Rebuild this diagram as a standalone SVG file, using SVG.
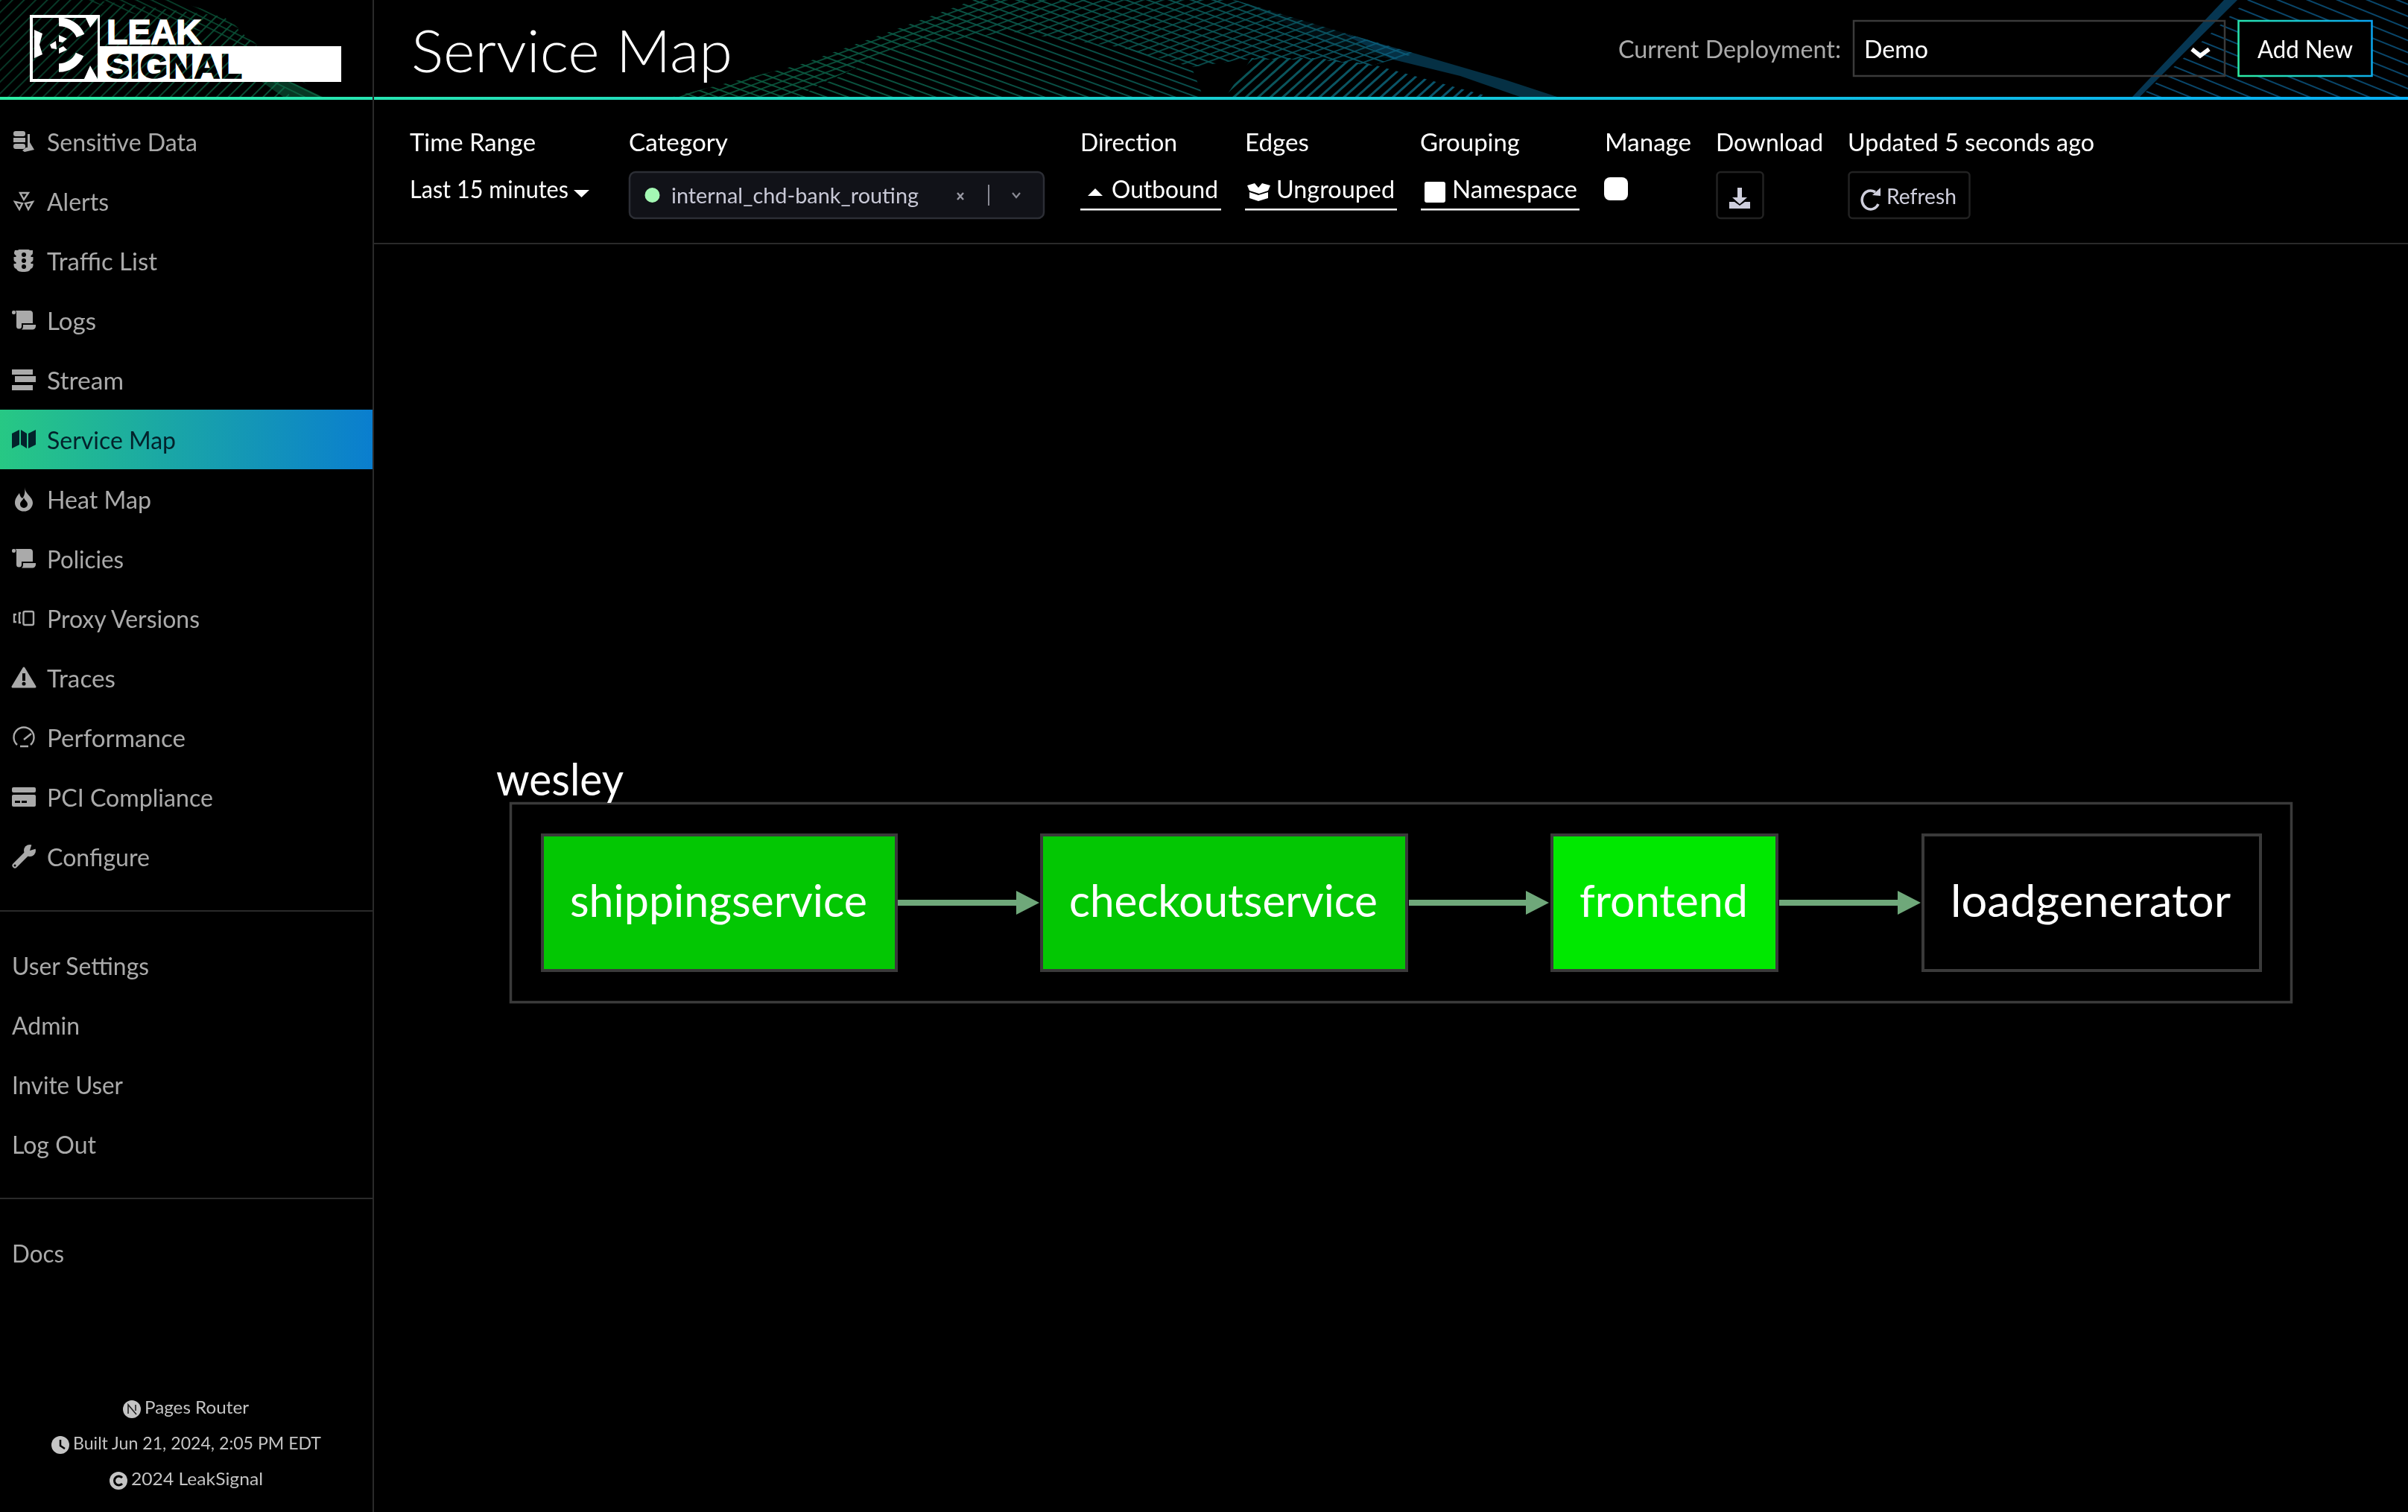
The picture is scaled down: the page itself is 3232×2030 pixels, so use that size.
<svg xmlns="http://www.w3.org/2000/svg" width="3232" height="2030" viewBox="0 0 3232 2030">
<style>
text{font-family:"Lato","Open Sans","Liberation Sans",sans-serif}
.nav{font-size:33px;fill:#aaa}
.ico{fill:#aaa}
.icl{fill:none;stroke:#aaa;stroke-width:2.4}
.hole{fill:#000}
.lab{font-size:33px;fill:#fff}
.foot{font-size:24px;fill:#c4c4c4}
.fi{fill:#c4c4c4}
.sep{fill:#2a2a2a}
.wt{fill:#fff}
.ul{fill:#fff}
.btn{fill:#000;stroke:#222;stroke-width:2.5}
.soft{fill:#cfcfdd}
.node{stroke:#3a3a3a;stroke-width:4}
.ntx{font-size:60px;fill:#fff}
.edge{stroke:#6fa87a;stroke-width:8;fill:none;marker-end:url(#arr)}
.lg{font-family:"Liberation Sans",Arial,sans-serif;font-size:47px;font-weight:700}
</style>
<defs>
<linearGradient id="topline" x1="0" x2="1" y1="0" y2="0"><stop offset="0" stop-color="#2deea4"/><stop offset="0.5" stop-color="#18cdd0"/><stop offset="1" stop-color="#08aef2"/></linearGradient>
<linearGradient id="active" x1="0" x2="1" y1="0" y2="0"><stop offset="0" stop-color="#27c884"/><stop offset="1" stop-color="#0a7ecf"/></linearGradient>
<linearGradient id="addnew" gradientUnits="userSpaceOnUse" x1="3004" y1="102" x2="3184" y2="27"><stop offset="0" stop-color="#2deea4"/><stop offset="1" stop-color="#08a4f5"/></linearGradient>
<linearGradient id="waveC" gradientUnits="userSpaceOnUse" x1="900" y1="0" x2="2090" y2="0"><stop offset="0" stop-color="#0b5c3c"/><stop offset="0.55" stop-color="#0a5550"/><stop offset="1" stop-color="#0a5578"/></linearGradient>
<linearGradient id="waveL" gradientUnits="userSpaceOnUse" x1="0" y1="0" x2="440" y2="0"><stop offset="0" stop-color="#083a28"/><stop offset="1" stop-color="#0b5a3c"/></linearGradient>
<pattern id="hBack" patternUnits="userSpaceOnUse" width="60" height="10" patternTransform="translate(900 0) rotate(20)"><rect width="60" height="1.800" fill="#fff"/></pattern>
<pattern id="hFwd" patternUnits="userSpaceOnUse" width="60" height="9" patternTransform="translate(900 0) rotate(-20)"><rect width="60" height="1.600" fill="#fff"/></pattern>
<pattern id="hSteep" patternUnits="userSpaceOnUse" width="60" height="11" patternTransform="translate(1700 0) rotate(-42)"><rect width="60" height="3" fill="#fff"/></pattern>
<pattern id="hLogoF" patternUnits="userSpaceOnUse" width="60" height="11" patternTransform="rotate(-45)"><rect width="60" height="1.800" fill="#fff"/></pattern>
<pattern id="hLogoB" patternUnits="userSpaceOnUse" width="60" height="9" patternTransform="rotate(26)"><rect width="60" height="1.500" fill="#fff"/></pattern>
<pattern id="hRight" patternUnits="userSpaceOnUse" width="60" height="15" patternTransform="translate(2900 0) rotate(22)"><rect width="60" height="2" fill="#fff"/></pattern>
<mask id="mCenter" maskUnits="userSpaceOnUse" x="800" y="0" width="1400" height="130">
<polygon points="1070,130 1180,77 1253,57 1360,43 1500,63 1545,72 1600,92 1615,130" fill="url(#hBack)"/>
<polygon points="903,130 1073,87 1193,43 1307,0 1657,0 1800,43 1900,72 1840,88 1767,80 1667,80 1600,90 1500,63 1360,43 1253,57 1180,77 1100,113 1070,130" fill="url(#hFwd)"/>
<polygon points="903,130 1073,87 1193,43 1307,0 1657,0 1800,43 1900,72 1840,88 1767,80 1667,80 1600,90 1500,63 1360,43 1253,57 1180,77 1100,113 1070,130" fill="url(#hBack)"/>
<polygon points="1645,130 1680,78 1767,78 1840,86 1935,112 2000,130" fill="url(#hSteep)"/>
</mask>
<mask id="mLeft" maskUnits="userSpaceOnUse" x="0" y="0" width="460" height="130">
<polygon points="0,0 125,0 300,22 345,62 390,130 0,130" fill="url(#hLogoF)"/>
<polygon points="110,0 230,0 300,20 345,60 433,130 395,130 345,95 300,50" fill="url(#hLogoB)"/>
</mask>
<mask id="mRight" maskUnits="userSpaceOnUse" x="2850" y="0" width="382" height="130">
<polygon points="2873,130 3017,0 3232,0 3232,130" fill="url(#hRight)"/>
</mask>
<marker id="arr" markerUnits="userSpaceOnUse" markerWidth="32" markerHeight="32" refX="0" refY="16" orient="auto"><path d="M0 0L31 16L0 32Z" fill="#6fa87a"/></marker>
<g id="scroll"><rect x="16" y="0" width="5" height="5" rx="2"/><path d="M23 0H40a4 4 0 0 1 4 4V17H29V21a3.5 3.5 0 0 1-7 0V4a6 6 0 0 0-1-4Z"/><path d="M31 19H48V21a4.5 4.5 0 0 1-4.5 4.5H29a5 5 0 0 0 2-4Z"/></g>
</defs>

<rect width="3232" height="2030" fill="#000"/>

<g id="logo">
<rect x="40" y="20" width="94" height="90" class="wt"/>
<rect x="44" y="24" width="87" height="82" class="hole"/>
<path d="M79 29.5A30.5 30.5 0 0 1 108 48" fill="none" stroke="#fff" stroke-width="11.5"/>
<path d="M79 91A30.5 30.5 0 0 0 107 73" fill="none" stroke="#fff" stroke-width="11.5"/>
<polygon points="46,40 57,45 53,60 57,73 46,78" class="wt"/>
<polygon points="67,60 75,55 76,66 69,65" class="wt"/>
<polygon points="79,47 90,52 84,57 79,56" class="wt"/>
<polygon points="79,65 85,62 90,67 79,72" class="wt"/>
<polygon points="115,24 131,24 121,37" class="wt"/>
<polygon points="121,88 131,106 113,106" class="wt"/>
<rect x="134" y="62" width="324" height="48" class="wt"/>
<text x="143" y="59" class="lg" fill="#fff" stroke="#fff" stroke-width="1.500" textLength="127" lengthAdjust="spacingAndGlyphs">LEAK</text>
<text x="142" y="105" class="lg" fill="#000" stroke="#000" stroke-width="1.500" textLength="183" lengthAdjust="spacingAndGlyphs">SIGNAL</text>
</g>

<g id="waves" style="mix-blend-mode:screen">
<rect x="0" y="0" width="460" height="130" fill="url(#waveL)" mask="url(#mLeft)"/>
<polygon points="340,102 395,112 433,130 380,130" fill="#0f7a50" opacity="0.45"/>
<rect x="800" y="0" width="1400" height="130" fill="url(#waveC)" mask="url(#mCenter)"/>
<polygon points="1800,44 1900,72 2020,107 2090,130 2040,130 1960,102 1870,80" fill="#0a6088" opacity="0.5"/>
<polygon points="1657,0 1800,43 1870,80 1790,62 1700,20" fill="#0c6078" opacity="0.15"/>
<rect x="2850" y="0" width="382" height="130" fill="#09466a" mask="url(#mRight)"/>
<polygon points="2862,130 2985,0 3003,0 2872,130" fill="#0a5a88" opacity="0.6"/>
</g>

<rect id="headline" x="0" y="130" width="3232" height="4" fill="url(#topline)"/>
<rect x="500" y="0" width="2" height="2030" class="sep"/>
<rect x="502" y="326" width="2730" height="2" class="sep"/>
<rect x="0" y="1222" width="500" height="2" class="sep"/>
<rect x="0" y="1608" width="500" height="2" class="sep"/>

<text id="title" x="552" y="97" font-size="78" font-weight="300" fill="#fff" textLength="431" lengthAdjust="spacingAndGlyphs">Service Map</text>

<g id="deployment">
<text x="2172" y="78" class="lab" style="fill:#aaa" textLength="299" lengthAdjust="spacingAndGlyphs">Current Deployment:</text>
<rect x="2488" y="28" width="498" height="74" fill="none" stroke="#3a3a3a" stroke-width="2.500"/>
<text x="2502" y="78" class="lab" textLength="86" lengthAdjust="spacingAndGlyphs">Demo</text>
<polyline points="2942,66 2953,75 2965,66" fill="none" stroke="#fff" stroke-width="5.500"/>
</g>
<g id="add-new">
<rect x="3004.500" y="28" width="179" height="74" fill="#000" stroke="url(#addnew)" stroke-width="2.500"/>
<text x="3030" y="78" class="lab" textLength="128" lengthAdjust="spacingAndGlyphs">Add New</text>
</g>

<g id="sidebar-nav">
<rect x="0" y="550" width="500" height="80" fill="url(#active)"/>
<g class="ico"><rect x="18" y="176" width="16" height="7" rx="3"/><rect x="18" y="185" width="16" height="6"/><rect x="18" y="193" width="16" height="7" rx="3"/><path d="M37 180l3 0 0 11 3 5 3 5-13 3-3-2 5-4 2 0z"/></g>
<text x="63" y="203" class="nav" textLength="202" lengthAdjust="spacingAndGlyphs">Sensitive Data</text>
<g class="icl"><polygon points="27,259 38,259 32,268"/><polygon points="20,271 30,273 26,281"/><polygon points="44,271 34,273 38,281"/></g>
<text x="63" y="283" class="nav" textLength="83" lengthAdjust="spacingAndGlyphs">Alerts</text>
<g class="ico"><path d="M20 336h4a3 3 0 0 1 2-1h12a3 3 0 0 1 2 1h4v3a4 4 0 0 1-2.500 4v2h3v3a4 4 0 0 1-3 4v2h3v3a5 5 0 0 1-3.500 4c-1 3-4 4-9.500 4s-8-1-9.500-4a5 5 0 0 1-3.500-4v-3h3v-2a4 4 0 0 1-3-4v-3h3v-2a4 4 0 0 1-2.500-4z"/></g>
<g class="hole"><circle cx="32" cy="342" r="3"/><circle cx="32" cy="350" r="3"/><circle cx="32" cy="358" r="3"/></g>
<text x="63" y="363" class="nav" textLength="148" lengthAdjust="spacingAndGlyphs">Traffic List</text>
<use href="#scroll" y="417" class="ico"/>
<text x="63" y="443" class="nav" textLength="66" lengthAdjust="spacingAndGlyphs">Logs</text>
<g class="ico"><rect x="16" y="496" width="28" height="7"/><rect x="20" y="505" width="28" height="8"/><rect x="16" y="517" width="28" height="7"/></g>
<text x="63" y="523" class="nav" textLength="103" lengthAdjust="spacingAndGlyphs">Stream</text>
<path d="M16 582L26 577V597L16 602ZM28 577L36 582V602L28 597ZM38 582L48 577V597L38 602Z" fill="#03222b"/>
<text x="63" y="603" class="nav" style="fill:#03222b" textLength="173" lengthAdjust="spacingAndGlyphs">Service Map</text>
<path d="M33 654C34 664 44 667 44 675A12 11.500 0 0 1 20 675C20 669 24 665 26 662C27 666 28 668 30 669C33 666 34 660 33 654Z" class="ico"/>
<path d="M32 668C33 672 37 673 37 677A5 5 0 0 1 27 677C27 673 31 672 32 668Z" class="hole"/>
<text x="63" y="683" class="nav" textLength="140" lengthAdjust="spacingAndGlyphs">Heat Map</text>
<use href="#scroll" y="737" class="ico"/>
<text x="63" y="763" class="nav" textLength="103" lengthAdjust="spacingAndGlyphs">Policies</text>
<g class="icl"><rect x="31.500" y="821" width="13.500" height="18" rx="2"/><path d="M28 823h-2v13h2M22 825h-3v10h3"/></g>
<text x="63" y="843" class="nav" textLength="205" lengthAdjust="spacingAndGlyphs">Proxy Versions</text>
<path d="M32 897L47 922H17Z" class="ico" stroke="#aaa" stroke-width="3" stroke-linejoin="round"/>
<rect x="30" y="904" width="4" height="10" class="hole"/><circle cx="32" cy="918" r="2.500" class="hole"/>
<text x="63" y="923" class="nav" textLength="92" lengthAdjust="spacingAndGlyphs">Traces</text>
<g class="icl"><path d="M23 1000A13.500 13.500 0 1 1 41 1000"/><path d="M27 1002H38M32 993L42 985"/></g>
<text x="63" y="1003" class="nav" textLength="186" lengthAdjust="spacingAndGlyphs">Performance</text>
<g class="ico"><rect x="16" y="1057" width="32" height="7" rx="2"/><rect x="16" y="1067" width="32" height="16" rx="2"/></g>
<g class="hole"><rect x="20" y="1075" width="7" height="3"/><rect x="29" y="1075" width="7" height="3"/></g>
<text x="63" y="1083" class="nav" textLength="223" lengthAdjust="spacingAndGlyphs">PCI Compliance</text>
<g><path d="M20 1162L37 1145" stroke="#aaa" stroke-width="7" stroke-linecap="round" fill="none"/><circle cx="40" cy="1142" r="8" class="ico"/><polygon points="40,1142 43,1132 50,1139" class="hole"/><circle cx="20" cy="1162" r="1.500" class="hole"/></g>
<text x="63" y="1163" class="nav" textLength="138" lengthAdjust="spacingAndGlyphs">Configure</text>
</g>

<g id="sidebar-links">
<text x="16" y="1309" class="nav" textLength="184" lengthAdjust="spacingAndGlyphs">User Settings</text>
<text x="16" y="1389" class="nav" textLength="91" lengthAdjust="spacingAndGlyphs">Admin</text>
<text x="16" y="1469" class="nav" textLength="149" lengthAdjust="spacingAndGlyphs">Invite User</text>
<text x="16" y="1549" class="nav" textLength="113" lengthAdjust="spacingAndGlyphs">Log Out</text>
<text x="16" y="1695" class="nav" textLength="70" lengthAdjust="spacingAndGlyphs">Docs</text>
</g>

<g id="sidebar-footer">
<circle cx="177" cy="1892" r="12" class="fi"/><path d="M172 1898V1886L183 1899M182 1886V1894" stroke="#222" stroke-width="1.600" fill="none"/>
<text x="194" y="1898" class="foot" textLength="140" lengthAdjust="spacingAndGlyphs">Pages Router</text>
<circle cx="81" cy="1940" r="12" class="fi"/><path d="M81 1933V1941L87 1945" stroke="#000" stroke-width="2.500" fill="none"/>
<text x="98" y="1946" class="foot" textLength="333" lengthAdjust="spacingAndGlyphs">Built Jun 21, 2024, 2:05 PM EDT</text>
<circle cx="159" cy="1988" r="12" class="fi"/><path d="M164 1984A6 6 0 1 0 164 1992" stroke="#000" stroke-width="3" fill="none"/>
<text x="176" y="1994" class="foot" textLength="177" lengthAdjust="spacingAndGlyphs">2024 LeakSignal</text>
</g>

<g id="toolbar">
<text x="550" y="203" class="lab" textLength="169" lengthAdjust="spacingAndGlyphs">Time Range</text>
<text x="550" y="266" class="lab" textLength="213" lengthAdjust="spacingAndGlyphs">Last 15 minutes</text>
<polygon points="770,255 791,255 780.500,265" class="wt"/>
<text x="844" y="203" class="lab" textLength="133" lengthAdjust="spacingAndGlyphs">Category</text>
<rect x="845" y="231" width="556" height="62" rx="8" fill="#111218" stroke="#2c2e35" stroke-width="2.500"/>
<circle cx="875.500" cy="262" r="10" fill="#a4f8b4"/>
<text x="901" y="273" font-size="29" fill="#c8c8d6" textLength="332" lengthAdjust="spacingAndGlyphs">internal_chd-bank_routing</text>
<path d="M1285 259l8 9M1293 259l-8 9" stroke="#9a9aa4" stroke-width="2.400" fill="none"/>
<rect x="1326" y="248" width="2" height="28" fill="#8a8a94"/>
<path d="M1359 259l5 6 5-6" stroke="#8a8a94" stroke-width="2.200" fill="none"/>
<text x="1450" y="203" class="lab" textLength="130" lengthAdjust="spacingAndGlyphs">Direction</text>
<polygon points="1470,253 1480,263 1460,263" class="wt"/>
<text x="1492" y="266" class="lab" textLength="143" lengthAdjust="spacingAndGlyphs">Outbound</text>
<rect x="1450" y="280" width="189" height="2.500" class="ul"/>
<text x="1671" y="203" class="lab" textLength="86" lengthAdjust="spacingAndGlyphs">Edges</text>
<path d="M1674 249L1684 246L1689 252L1694 246L1705 249L1702 256L1690 260L1677 256ZM1677 258L1689 262L1702 258V266L1689 270L1677 266Z" class="wt"/>
<text x="1713" y="266" class="lab" textLength="159" lengthAdjust="spacingAndGlyphs">Ungrouped</text>
<rect x="1671" y="280" width="204" height="2.500" class="ul"/>
<text x="1906" y="203" class="lab" textLength="134" lengthAdjust="spacingAndGlyphs">Grouping</text>
<rect x="1912" y="244" width="28" height="28" rx="3" class="wt"/>
<text x="1949" y="266" class="lab" textLength="168" lengthAdjust="spacingAndGlyphs">Namespace</text>
<rect x="1907" y="280" width="213" height="2.500" class="ul"/>
<text x="2154" y="203" class="lab" textLength="116" lengthAdjust="spacingAndGlyphs">Manage</text>
<rect x="2153" y="238" width="32" height="31" rx="8" class="wt"/>
<text x="2303" y="203" class="lab" textLength="144" lengthAdjust="spacingAndGlyphs">Download</text>
<rect x="2304.500" y="231" width="62" height="62" rx="5" class="btn"/>
<path d="M2332 252h6v13h7l-10 9-10-9h7ZM2321 271h7l7 5 7-5h7v9h-28Z" class="soft"/>
<text x="2480" y="203" class="lab" textLength="331" lengthAdjust="spacingAndGlyphs">Updated 5 seconds ago</text>
<rect x="2481.500" y="231" width="162" height="62" rx="5" class="btn"/>
<path d="M2517 258A11.500 12.500 0 1 0 2521 274" fill="none" stroke="#cfcfdd" stroke-width="3.500"/>
<polygon points="2524,252 2524,263 2513,262" class="soft"/>
<text x="2532" y="274" font-size="29" class="soft" textLength="94" lengthAdjust="spacingAndGlyphs">Refresh</text>
</g>

<g id="group-wesley">
<rect x="685.500" y="1078.500" width="2390" height="267" fill="none" stroke="#3a3a3a" stroke-width="3.500"/>
<text x="666" y="1068" font-size="60" fill="#fff" textLength="171" lengthAdjust="spacingAndGlyphs">wesley</text>
</g>

<g id="connectors">
<line x1="1205" y1="1212" x2="1364" y2="1212" class="edge"/>
<line x1="1891" y1="1212" x2="2048" y2="1212" class="edge"/>
<line x1="2388" y1="1212" x2="2547" y2="1212" class="edge"/>
</g>

<g id="node-shippingservice">
<rect x="728" y="1121" width="475" height="182" fill="#03c703" class="node"/>
<text x="765" y="1231" class="ntx" textLength="399" lengthAdjust="spacingAndGlyphs">shippingservice</text>
</g>
<g id="node-checkoutservice">
<rect x="1398" y="1121" width="490" height="182" fill="#03c703" class="node"/>
<text x="1435" y="1231" class="ntx" textLength="414" lengthAdjust="spacingAndGlyphs">checkoutservice</text>
</g>
<g id="node-frontend">
<rect x="2083" y="1121" width="302" height="182" fill="#00e800" class="node"/>
<text x="2120" y="1231" class="ntx" textLength="226" lengthAdjust="spacingAndGlyphs">frontend</text>
</g>
<g id="node-loadgenerator">
<rect x="2581" y="1121" width="453" height="182" fill="#000" class="node"/>
<text x="2618" y="1231" class="ntx" textLength="376" lengthAdjust="spacingAndGlyphs">loadgenerator</text>
</g>
</svg>
